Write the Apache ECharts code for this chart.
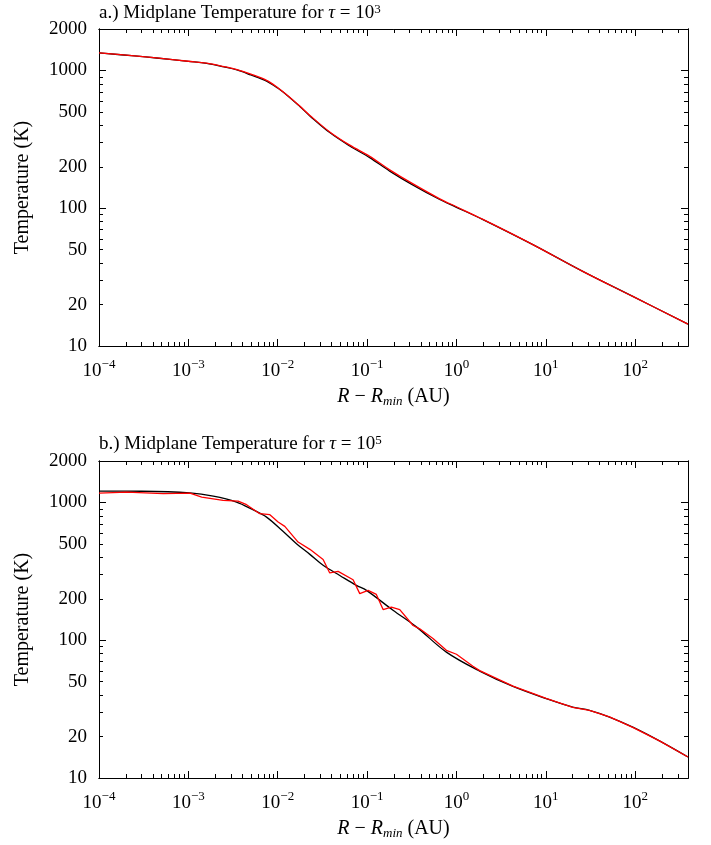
<!DOCTYPE html>
<html>
<head>
<meta charset="utf-8">
<title>Midplane Temperature</title>
<script src="https://cdn.jsdelivr.net/npm/echarts@6/dist/echarts.min.js"></script>
<style>
  html, body { margin: 0; background: #fff; }
  #chart { width: 711px; height: 845px; }
</style>
</head>
<body>
<div id="chart"></div>
<script>
// panel a, tau = 1e3
var radiusA = [1e-4, 2.5e-4, 4.4e-4, 1e-3, 1.6e-3, 2.5e-3, 3.5e-3, 5e-3, 7.5e-3, 0.01, 0.0136, 0.0178, 0.0229,
  0.0382, 0.064, 0.107, 0.179, 0.316, 0.65, 1.0, 1.98, 7.16, 25.9, 94, 390];
var tempBlackA = [1340, 1275, 1232, 1165, 1127, 1062, 1008, 928, 838, 745, 637, 545, 468,
  354, 283, 233, 186, 149, 115.7, 101.6, 82.7, 54.4, 34.8, 22.9, 14.4];
var tempRedA = [1340, 1276, 1233, 1167, 1130, 1068, 1016, 942, 848, 750, 640, 549, 472,
  358, 287, 238, 190, 152, 117, 102.5, 83, 54.5, 34.8, 22.9, 14.4];

// panel b, tau = 1e5
var radiusB = [1e-4, 3e-4, 1.04e-3, 1.9e-3, 3.46e-3, 5.2e-3, 7.5e-3, 0.0112, 0.0162, 0.0229, 0.0322, 0.05,
  0.076, 0.0984, 0.195, 0.356, 0.771, 1.82, 4.29, 10.1, 20, 30.8, 51.6, 94, 187, 390];
var tempBlackB = [1210, 1206, 1172, 1112, 1007, 890, 783, 625, 502, 420, 350, 294,
  250, 230, 165, 125, 82, 59.7, 46.2, 37.7, 32.7, 31.0, 27.7, 23.4, 18.6, 14.2];
var radiusRedB = [1e-4, 2.04e-4, 5.24e-4, 1.04e-3, 1.41e-3, 2.45e-3, 3.6e-3, 4.48e-3, 6.3e-3, 8.17e-3, 0.0101,
  0.012, 0.0169, 0.0229, 0.0322, 0.0382, 0.0474, 0.0697, 0.0828, 0.1026, 0.127, 0.151, 0.187, 0.232, 0.327,
  0.388, 0.546, 0.771, 1.0, 1.53, 1.82, 4.29, 10.1, 20, 30.8, 51.6, 94, 187, 390];
var tempRedB = [1170, 1189, 1158, 1170, 1094, 1035, 1023, 964, 829, 815, 721,
  671, 516, 457, 385, 308, 316, 275, 218, 230, 215, 167, 174, 167, 128,
  121, 103, 84.5, 79.1, 64.7, 60.2, 46.4, 37.8, 32.6, 31.0, 27.8, 23.3, 18.6, 14.2];

var xTickLabels = [1e-4, 1e-3, 1e-2, 1e-1, 1, 10, 100];
var yTickLabels = [10, 20, 50, 100, 200, 500, 1000, 2000];
var yDecades = [10, 100, 1000];
var xMax = 390;

var FONT = 'Liberation Serif';
var lg = Math.log10;
var xMin = lg(xTickLabels[0]), xMaxL = lg(xMax);
var yMin = lg(yTickLabels[0]), yMaxL = lg(yTickLabels[yTickLabels.length - 1]);

function minorTicks(decades, last) {
  var out = [];
  decades.forEach(function (d) {
    for (var k = 2; k <= 9; k++) {
      if (k * d <= last * 1.0001) out.push(lg(k * d));
    }
  });
  return out;
}
var xMajor = xTickLabels.map(lg);
var xMinor = minorTicks(xTickLabels, xMax);
var yMajor = yDecades.map(lg);
var yMinor = minorTicks(yDecades, yTickLabels[yTickLabels.length - 1]);

function pairs(rs, ts) {
  return rs.map(function (r, i) { return [lg(r), lg(ts[i])]; });
}

function axis(dim, grid, pos, ticks, len, extra) {
  var a = {
    type: 'value',
    gridIndex: grid,
    position: pos,
    min: dim === 'x' ? xMin : yMin,
    max: dim === 'x' ? xMaxL : yMaxL,
    axisLine: { show: true, onZero: false, lineStyle: { color: '#000', width: 1 } },
    axisTick: { show: true, inside: true, length: len, customValues: ticks, lineStyle: { color: '#000', width: 1 } },
    axisLabel: { show: false },
    splitLine: { show: false }
  };
  return Object.assign(a, extra || {});
}

function expText(v) {
  var e = Math.round(v);
  return e < 0 ? '\u2212' + (-e) : '' + e;
}

function xAxes(grid) {
  return [
    axis('x', grid, 'bottom', xMajor, 7, {
      axisLabel: {
        show: true, customValues: xMajor, margin: 12,
        formatter: function (v) { return '{n|10}{s|' + expText(v) + '}'; },
        rich: {
          n: { fontFamily: FONT, fontSize: 19, lineHeight: 26, color: '#000' },
          s: { fontFamily: FONT, fontSize: 13, lineHeight: 13, verticalAlign: 'top', color: '#000' }
        }
      },
      name: '{i|R}{n| \u2212 }{i|R}{sub|min}{n| (AU)}',
      nameLocation: 'middle',
      nameGap: 40,
      nameTextStyle: {
        rich: {
          n: { fontFamily: FONT, fontSize: 20, lineHeight: 22, color: '#000' },
          i: { fontFamily: FONT, fontSize: 20, lineHeight: 22, fontStyle: 'italic', color: '#000' },
          sub: { fontFamily: FONT, fontSize: 13, lineHeight: 13, fontStyle: 'italic', verticalAlign: 'bottom', color: '#000' }
        }
      }
    }),
    axis('x', grid, 'bottom', xMinor, 4),
    axis('x', grid, 'top', xMajor, 7),
    axis('x', grid, 'top', xMinor, 4)
  ];
}

function yAxes(grid) {
  return [
    axis('y', grid, 'left', yMajor, 7, {
      axisLabel: {
        show: true, customValues: yTickLabels.map(lg), margin: 12,
        fontFamily: FONT, fontSize: 19, color: '#000',
        formatter: function (v) { return '' + Math.round(Math.pow(10, v)); }
      },
      name: 'Temperature (K)',
      nameLocation: 'middle',
      nameGap: 66,
      nameTextStyle: { fontFamily: FONT, fontSize: 20, color: '#000' }
    }),
    axis('y', grid, 'left', yMinor, 4),
    axis('y', grid, 'right', yMajor, 7),
    axis('y', grid, 'right', yMinor, 4)
  ];
}

function titleText(label, power) {
  return '{n|' + label + '.) Midplane Temperature for }{i|\u03c4}{n| = 10}{s|' + power + '}';
}
var titleRich = {
  n: { fontFamily: FONT, fontSize: 19, fontWeight: 'normal', lineHeight: 20, color: '#000' },
  i: { fontFamily: FONT, fontSize: 19, fontWeight: 'normal', lineHeight: 20, fontStyle: 'italic', color: '#000' },
  s: { fontFamily: FONT, fontSize: 13, fontWeight: 'normal', lineHeight: 12, verticalAlign: 'top', color: '#000' }
};

function line(data, color, xi, smooth) {
  return {
    type: 'line', data: data, xAxisIndex: xi, yAxisIndex: xi,
    showSymbol: false, smooth: smooth, color: color,
    lineStyle: { color: color, width: 1.3 }
  };
}

var chart = echarts.init(document.getElementById('chart'), null, { renderer: 'canvas' });
chart.setOption({
  animation: false,
  backgroundColor: '#fff',
  title: [
    { text: titleText('a', 3), left: 99, top: 3, padding: 0, textStyle: { fontWeight: 'normal', rich: titleRich } },
    { text: titleText('b', 5), left: 99, top: 434, padding: 0, textStyle: { fontWeight: 'normal', rich: titleRich } }
  ],
  grid: [
    { left: 99, top: 29, width: 589, height: 317 },
    { left: 99, top: 461, width: 589, height: 317 }
  ],
  xAxis: xAxes(0).concat(xAxes(1)),
  yAxis: yAxes(0).concat(yAxes(1)),
  series: [
    line(pairs(radiusA, tempBlackA), '#000000', 0, 0.35),
    line(pairs(radiusA, tempRedA), '#ff0000', 0, 0.35),
    line(pairs(radiusB, tempBlackB), '#000000', 4, 0.35),
    line(pairs(radiusRedB, tempRedB), '#ff0000', 4, false)
  ]
});
</script>
</body>
</html>
